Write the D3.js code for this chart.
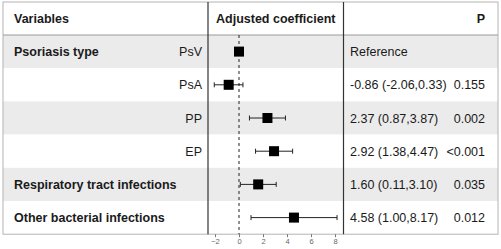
<!DOCTYPE html>
<html><head><meta charset="utf-8">
<script src="https://cdn.jsdelivr.net/npm/d3@7/dist/d3.min.js"></script>
<style>body{margin:0;background:#fff}svg{display:block}text{font-family:"Liberation Sans",Arial,sans-serif}</style>
</head><body>
<script>
const groups = ["Psoriasis type", "", "", "", "Respiratory tract infections", "Other bacterial infections"];
const subgroups = ["PsV", "PsA", "PP", "EP", "", ""];
const estimates = [0, -0.86, 2.37, 2.92, 1.60, 4.58];
const lower = [null, -2.06, 0.87, 1.38, 0.11, 1.00];
const upper = [null, 0.33, 3.87, 4.47, 3.10, 8.17];
const ciLabels = ["Reference", "-0.86 (-2.06,0.33)", "2.37 (0.87,3.87)", "2.92 (1.38,4.47)", "1.60 (0.11,3.10)", "4.58 (1.00,8.17)"];
const pLabels = ["", "0.155", "0.002", "<0.001", "0.035", "0.012"];
const xTicks = [-2, 0, 2, 4, 6, 8];
const headers = ["Variables", "Adjusted coefficient", "P"];

(function () {
const W = 501, H = 249;
const svg = d3.select("body").append("svg").attr("width", W).attr("height", H);
const L = 3, R = 498, T = 2, headH = 33, rowH = 33.2;
const col1 = 208, col2 = 343.5;
const B = T + headH + rowH * estimates.length;

const x = d3.scaleLinear().domain([-2, 8]).range([215, 335]);
const y = d3.scaleBand().domain(d3.range(estimates.length)).range([T + headH, B]).padding(0);

svg.selectAll("rect.row").data(d3.range(estimates.length)).enter().append("rect")
  .attr("x", L).attr("y", i => y(i)).attr("width", R - L).attr("height", y.bandwidth())
  .attr("fill", i => i % 2 === 0 ? "#ebebeb" : "#ffffff");

svg.append("rect").attr("x", L).attr("y", T).attr("width", R - L).attr("height", B - T)
  .attr("fill", "none").attr("stroke", "#b4b4b4").attr("stroke-width", 1);
svg.append("line").attr("x1", L).attr("x2", R).attr("y1", T + headH).attr("y2", T + headH)
  .attr("stroke", "#9a9a9a").attr("stroke-width", 1);
[col1, col2].forEach(cx => svg.append("line").attr("x1", cx).attr("x2", cx).attr("y1", T).attr("y2", B)
  .attr("stroke", "#333").attr("stroke-width", 1.2));

const hy = T + headH / 2 + 4.5;
svg.append("text").attr("x", 14).attr("y", hy).attr("font-size", 12.5).attr("font-weight", "bold").attr("fill", "#1a1a1a").text(headers[0]);
svg.append("text").attr("x", (col1 + col2) / 2).attr("y", hy).attr("text-anchor", "middle").attr("font-size", 12.5).attr("font-weight", "bold").attr("fill", "#1a1a1a").text(headers[1]);
svg.append("text").attr("x", 485).attr("y", hy).attr("text-anchor", "end").attr("font-size", 12.5).attr("font-weight", "bold").attr("fill", "#1a1a1a").text(headers[2]);

const cy = i => y(i) + y.bandwidth() / 2;
const rows = d3.range(estimates.length);
svg.selectAll("text.g").data(rows).enter().append("text")
  .attr("x", 14).attr("y", i => cy(i) + 4.5).attr("font-size", 12.5).attr("font-weight", "bold").attr("fill", "#1a1a1a").text(i => groups[i]);
svg.selectAll("text.s").data(rows).enter().append("text")
  .attr("x", 202).attr("y", i => cy(i) + 4.5).attr("text-anchor", "end").attr("font-size", 12.5).attr("fill", "#1a1a1a").text(i => subgroups[i]);
svg.selectAll("text.ci").data(rows).enter().append("text")
  .attr("x", 350).attr("y", i => cy(i) + 4.5).attr("font-size", 12.5).attr("fill", "#1a1a1a").text(i => ciLabels[i]);
svg.selectAll("text.p").data(rows).enter().append("text")
  .attr("x", 485).attr("y", i => cy(i) + 4.5).attr("text-anchor", "end").attr("font-size", 12.5).attr("fill", "#1a1a1a").text(i => pLabels[i]);

svg.append("line").attr("x1", x(0)).attr("x2", x(0)).attr("y1", T + headH).attr("y2", B)
  .attr("stroke", "#222").attr("stroke-width", 1).attr("stroke-dasharray", "3,3");

const ciRows = rows.filter(i => lower[i] !== null);
const g = svg.append("g");
g.selectAll("line.ci").data(ciRows).enter().append("line")
  .attr("x1", i => x(lower[i])).attr("x2", i => x(upper[i])).attr("y1", cy).attr("y2", cy)
  .attr("stroke", "#222").attr("stroke-width", 1);
g.selectAll("line.capl").data(ciRows).enter().append("line")
  .attr("x1", i => x(lower[i])).attr("x2", i => x(lower[i])).attr("y1", i => cy(i) - 2.5).attr("y2", i => cy(i) + 2.5)
  .attr("stroke", "#222").attr("stroke-width", 1);
g.selectAll("line.capu").data(ciRows).enter().append("line")
  .attr("x1", i => x(upper[i])).attr("x2", i => x(upper[i])).attr("y1", i => cy(i) - 2.5).attr("y2", i => cy(i) + 2.5)
  .attr("stroke", "#222").attr("stroke-width", 1);
g.selectAll("rect.pt").data(rows).enter().append("rect")
  .attr("x", i => x(estimates[i]) - 5).attr("y", i => cy(i) - 5).attr("width", 10).attr("height", 10).attr("fill", "#000");

const ax = svg.append("g").attr("transform", `translate(0,${B})`)
  .call(d3.axisBottom(x).tickValues(xTicks).tickSize(3).tickPadding(1.5));
ax.select(".domain").remove();
ax.selectAll(".tick line").attr("stroke", "#777");
ax.selectAll(".tick text").attr("fill", "#666").attr("font-size", 7.5).attr("font-family", "Liberation Sans, Arial, sans-serif");
})();
</script>
</body></html>
